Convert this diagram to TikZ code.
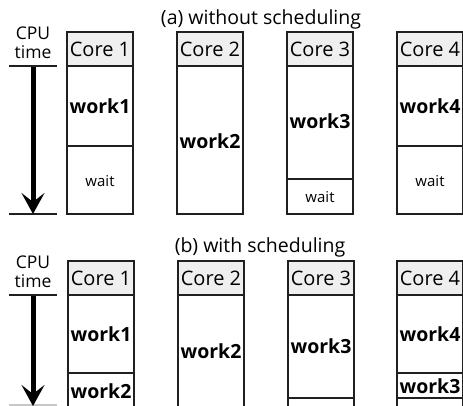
\documentclass[tikz,border=0pt]{standalone}
\usepackage{fontspec}
\setmainfont{Open Sans}
\usetikzlibrary{arrows.meta}

\definecolor{edge}{HTML}{202020}
\definecolor{headfill}{HTML}{EFEFEF}

\tikzset{
  lane/.style={draw=edge, line width=1.4pt},
  header/.style={draw=edge, fill=headfill, line width=1.4pt},
  coretext/.style={font=\fontsize{20}{20}\selectfont, inner sep=0pt},
  worktext/.style={font=\bfseries\fontsize{19.5}{20}\selectfont, inner sep=0pt},
  waittext/.style={font=\fontsize{15}{15}\selectfont, inner sep=0pt},
  titletext/.style={font=\fontsize{19.5}{20}\selectfont, inner sep=0pt},
  axistext/.style={font=\fontsize{17.5}{17}\selectfont, inner sep=0pt},
  tick/.style={draw=edge, line width=1.4pt},
  timearrow/.style={draw=black, line width=5pt,
    -{Stealth[length=21pt, width=23pt, inset=9pt]}},
}

\begin{document}
\begin{tikzpicture}[x=1pt, y=-1pt]
  \useasboundingbox (0,0) rectangle (463,406);
  \fill[white] (0,0) rectangle (463,406);
  \clip (0,0) rectangle (463,406);

  % ---------------- (a) without scheduling ----------------
  \node[titletext] (ta) at (261,19) {(a) without scheduling};

  % time axis
  \node[axistext] (cpua) at (33,33) {CPU};
  \node[axistext] (timea) at (33,52) {time};
  \coordinate (a0l) at (9,66);  \coordinate (a0r) at (57,66);
  \coordinate (a1l) at (9,214); \coordinate (a1r) at (57,214);
  \coordinate (as) at (33,67);  \coordinate (ae) at (33,214);
  \draw[tick] (a0l) -- (a0r);
  \draw[tick] (a1l) -- (a1r);
  \draw[timearrow] (as) -- (ae);

  % core columns
  \foreach \x/\n in {67/1,177/2,287/3,397/4}{
    \draw[header] (\x,32) rectangle ++(66,34);
    \draw[lane] (\x,66) rectangle ++(66,148);
    \node[coretext] (ca\n) at (\x+33,49) {Core \n};
  }
  \draw[lane] (67,146) -- ++(66,0);
  \draw[lane] (287,179) -- ++(66,0);
  \draw[lane] (397,146) -- ++(66,0);

  \node[worktext] (wa1) at (100,106) {work1};
  \node[waittext] (xa1) at (100,181) {wait};
  \node[worktext] (wa2) at (210,141) {work2};
  \node[worktext] (wa3) at (320,121) {work3};
  \node[waittext] (xa3) at (320,197) {wait};
  \node[worktext] (wa4) at (430,106) {work4};
  \node[waittext] (xa4) at (430,181) {wait};

  % ---------------- (b) with scheduling ----------------
  \node[titletext] (tb) at (260,247) {(b) with scheduling};

  \node[axistext] (cpub) at (33,262) {CPU};
  \node[axistext] (timeb) at (33,281) {time};
  \coordinate (b0l) at (9,295);  \coordinate (b0r) at (57,295);
  \coordinate (b1l) at (9,405);  \coordinate (b1r) at (57,405);
  \coordinate (bs) at (33,296);  \coordinate (be) at (33,406);
  \draw[tick] (b0l) -- (b0r);
  \draw[tick, draw=edge!25] (b1l) -- (b1r);
  \draw[timearrow] (bs) -- (be);

  \foreach \x/\n in {68/1,178/2,288/3,397/4}{
    \draw[header] (\x,261) rectangle ++(66,34);
    \draw[lane] (\x,295) rectangle ++(66,140);
    \node[coretext] (cb\n) at (\x+33,278) {Core \n};
  }
  \draw[lane] (68,373) -- ++(66,0);
  \draw[lane] (288,398) -- ++(66,0);
  \draw[lane] (397,373) -- ++(66,0);
  \draw[lane] (397,398) -- ++(66,0);

  \node[worktext] (wb1) at (101,334) {work1};
  \node[worktext] (wb12) at (101,391) {work2};
  \node[worktext] (wb2) at (211,351) {work2};
  \node[worktext] (wb3) at (321,346) {work3};
  \node[worktext] (wb4) at (430,334) {work4};
  \node[worktext] (wb43) at (430,386) {work3};
\end{tikzpicture}
\end{document}
